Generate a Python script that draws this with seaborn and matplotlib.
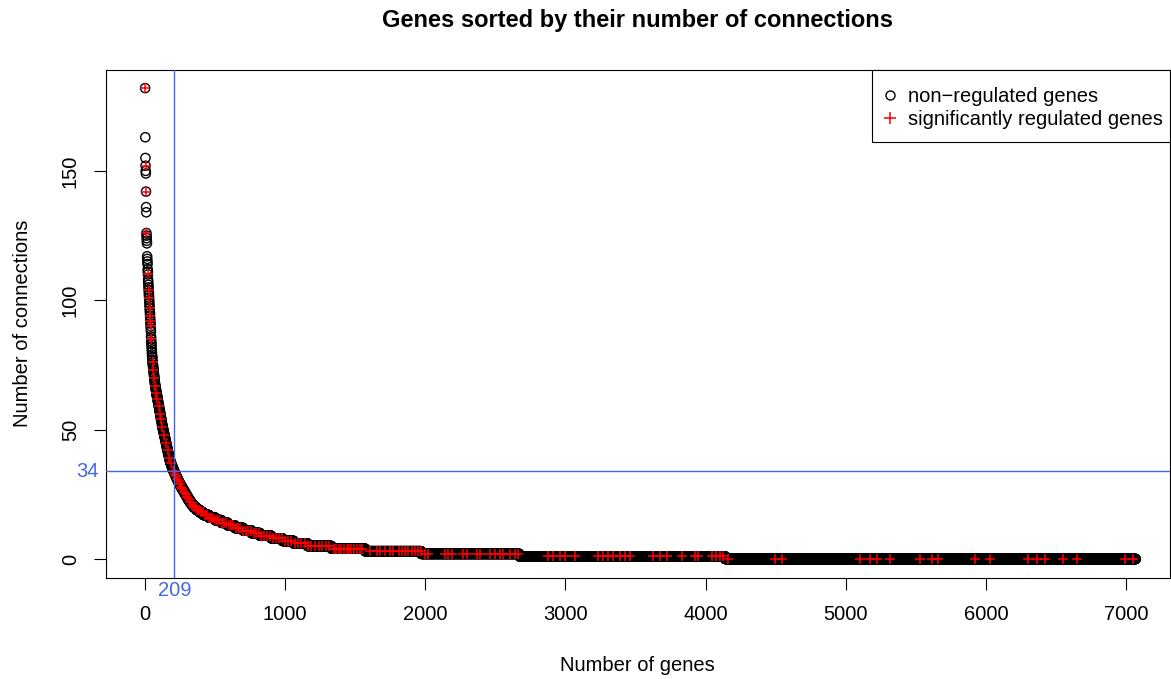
import numpy as np
import pandas as pd
import matplotlib
matplotlib.use("Agg")
import matplotlib.pyplot as plt
import seaborn as sns
from matplotlib.lines import Line2D
from matplotlib.patches import Rectangle
import matplotlib.transforms as mtransforms

# ---- data ----
# number of genes having each connection count (connection counts 0..116)
conn_levels = list(range(0, 117))
gene_counts = (
    [2930, 1470, 700, 400, 240, 170] +                       # 0-5
    [100, 80, 80, 80, 60, 60, 60, 50, 45, 45, 45, 39] +        # 6-17
    [26, 25, 20, 15, 12, 12, 10, 11, 11, 11, 11, 9, 9, 9,
     8, 8, 8, 7, 7, 6, 5, 5] +                                 # 18-39
    [4, 4, 4, 4, 4, 4, 4] +                                    # 40-46
    [4, 4, 4, 4, 4, 3, 3, 4, 3, 3] +                           # 47-56
    [4, 3, 3, 4, 3, 3, 4, 3, 3, 3, 3] +                        # 57-67
    [2, 2, 2, 2, 2, 2, 2, 2, 2, 1, 2, 1, 1] +                  # 68-80
    [1, 1, 1, 1, 1, 1, 0, 1, 1, 1, 1, 1, 1] +                  # 81-93
    [1, 1, 1, 1, 1, 1, 1, 1, 1, 1, 1, 1] +                     # 94-105
    [1, 1, 1, 0, 1, 1, 1, 0, 1, 1, 1]                          # 106-116
)
# the most connected genes, read individually
top_gene_connections = [182, 163, 155, 152, 150, 149, 142, 136, 134,
                        126, 125, 124, 123, 122, 117]

# rank positions (0-based, in the sorted order) of significantly regulated genes
regulated_ranks = [
    0, 3, 6, 9, 20, 25, 28, 32, 35, 37, 39, 43, 53, 59, 65, 71, 80, 87, 97,
    107, 113, 123, 135, 150, 162, 171, 181, 201, 205, 214, 222, 230, 238, 247,
    255, 266, 277, 288, 299, 310, 322, 335, 348, 360, 372, 385, 398, 412, 425,
    440, 455, 470, 485, 500, 515, 530, 548, 565, 580, 598, 615, 630, 648, 665,
    680, 700, 718, 735, 755, 775, 790, 812, 830, 850, 872, 890, 910, 935, 955,
    975, 1000, 1020, 1040, 1068, 1090, 1115, 1140, 1165, 1185, 1210, 1240,
    1265, 1290, 1310, 1345, 1365, 1385, 1400, 1420, 1440, 1455, 1470, 1490,
    1510, 1530, 1550, 1606, 1653, 1677, 1713, 1748, 1772, 1808, 1831, 1855,
    1879, 1903, 1927, 1950, 1965, 1998, 2020, 2141, 2162, 2191, 2269, 2298,
    2369, 2390, 2462, 2497, 2533, 2555, 2605, 2640, 2662, 2876, 2911, 2961,
    2997, 3068, 3232, 3268, 3304, 3339, 3389, 3425, 3461, 3625, 3675, 3725,
    3832, 3925, 3946, 4046, 4074, 4103, 4124, 4160, 4496, 4545, 5102, 5173,
    5223, 5316, 5530, 5616, 5659, 5923, 6030, 6301, 6365, 6422, 6551, 6651,
    6993, 7050]

threshold_connections = 34
threshold_rank = 209

x_ticks = [0, 1000, 2000, 3000, 4000, 5000, 6000, 7000]
y_ticks = [0, 50, 100, 150]

title = "Genes sorted by their number of connections"
x_label = "Number of genes"
y_label = "Number of connections"
legend_labels = ["non\u2212regulated genes", "significantly regulated genes"]

# ---- build frame ----
values = np.concatenate([np.repeat(conn_levels, gene_counts),
                         np.array(top_gene_connections)])
values = np.sort(values)[::-1]
df = pd.DataFrame({"rank": np.arange(1, len(values) + 1), "connections": values})
reg = df.iloc[regulated_ranks]

# ---- style ----
sns.set_style("ticks")
plt.rcParams["font.family"] = ["Liberation Sans", "DejaVu Sans"]
plt.rcParams["text.color"] = "black"
plt.rcParams["axes.labelcolor"] = "black"
plt.rcParams["xtick.color"] = "black"
plt.rcParams["ytick.color"] = "black"
plt.rcParams["axes.linewidth"] = 0.8

W, H = 1171, 679
fig = plt.figure(figsize=(W / 100, H / 100), dpi=100)
ax = fig.add_axes([105.5 / W, (H - 577.5) / H, (1170 - 105.5) / W, (577.5 - 70) / H])

sns.scatterplot(data=df, x="rank", y="connections", ax=ax, marker="o", s=44,
                facecolor="none", edgecolor="black", linewidth=1.0, zorder=2,
                legend=False)
sns.scatterplot(data=reg, x="rank", y="connections", ax=ax, marker="+", s=60,
                color="red", linewidth=1.1, zorder=3, legend=False)

blue = "#4169E1"
ax.axhline(threshold_connections, color=blue, lw=1.0, zorder=4)
ax.axvline(threshold_rank, color=blue, lw=1.0, zorder=4)

ax.set_xlim(-282, 7314)
ax.set_ylim(-7.15, 189.0)
ax.set_xticks(x_ticks)
ax.set_yticks(y_ticks)
ax.tick_params(axis="both", direction="out", length=8.5, width=0.8,
               labelsize=14.5, color="black", labelcolor="black")
ax.tick_params(axis="x", pad=11)
ax.tick_params(axis="y", pad=10)
for lab in ax.get_yticklabels():
    lab.set_rotation(90)
    lab.set_va("center")

for s in ax.spines.values():
    s.set_visible(True)
    s.set_color("black")
    s.set_linewidth(0.8)

ax.set_xlabel(x_label, fontsize=14.5, labelpad=23)
ax.set_ylabel(y_label, fontsize=14.5, labelpad=21)
fig.text((105.5 + 1170) / 2 / W, 1 - 20 / H, title, ha="center", va="center",
         fontsize=17, fontweight="bold", color="black")

# threshold labels in the margin
trans_y = mtransforms.blended_transform_factory(ax.transAxes, ax.transData)
ax.annotate(str(threshold_connections), xy=(0, threshold_connections),
            xycoords=trans_y, xytext=(-5, 0), textcoords="offset points",
            ha="right", va="center", fontsize=14.5, color=blue,
            annotation_clip=False)
trans_x = mtransforms.blended_transform_factory(ax.transData, ax.transAxes)
ax.annotate(str(threshold_rank), xy=(threshold_rank, 0), xycoords=trans_x,
            xytext=(0, -9.5), textcoords="offset points", ha="center",
            va="center", fontsize=14.5, color=blue, annotation_clip=False)

# legend box (R style) drawn as a frame plus frameless legend entries
fig.add_artist(Rectangle((872 / W, 1 - 142 / H), (1170 - 872) / W, 72 / H,
                         transform=fig.transFigure, facecolor="white",
                         edgecolor="black", linewidth=0.8, zorder=5))
handles = [Line2D([], [], ls="none", marker="o", mfc="none", mec="black",
                  ms=6.5, mew=1.0),
           Line2D([], [], ls="none", marker="+", color="red", ms=8, mew=1.1)]
leg = fig.legend(handles, legend_labels, loc="upper left",
                 bbox_to_anchor=(880 / W, 1 - 87 / H),
                 bbox_transform=fig.transFigure, fontsize=14.5,
                 frameon=False, borderaxespad=0, borderpad=0,
                 handletextpad=0.4, handlelength=1.0, labelspacing=0.2)
leg.set_zorder(6)

fig.savefig("out.png", dpi=100)
